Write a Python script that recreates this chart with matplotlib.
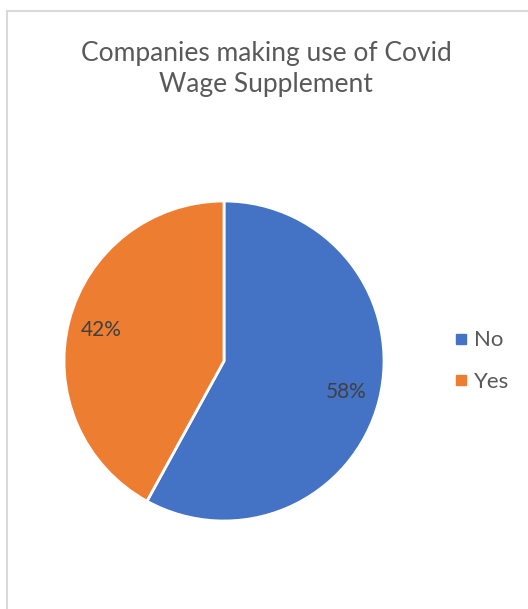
import matplotlib.pyplot as plt
from matplotlib.patches import Rectangle
from matplotlib.lines import Line2D

# share of companies that used the Covid wage supplement
categories = ['No', 'Yes']
shares = [58, 42]
colors = ['#4472C4', '#ED7D31']
title = 'Companies making use of Covid\nWage Supplement'

plt.rcParams['font.family'] = ['Lato', 'DejaVu Sans']
text_color = '#595959'

W, H = 528, 609
fig = plt.figure(figsize=(W / 100, H / 100), dpi=100)

# light grey chart-area frame, running off the right and bottom edges
fig.patches.append(Rectangle((6.5 / W, -0.05), 1.1, 1.05 - 10.5 / H,
                             transform=fig.transFigure, fill=False,
                             edgecolor='#d9d9d9', linewidth=1.5))

fig.text(266 / W, 1 - 69 / H, title, ha='center', va='center',
         fontsize=19, color=text_color, linespacing=1.3)

# pie axes: centre (224, 361) px, radius 160 px
cx, cy, r = 224, 361, 160
ax = fig.add_axes([(cx - r) / W, 1 - (cy + r) / H, 2 * r / W, 2 * r / H])
wedges, _, autotexts = ax.pie(
    shares, colors=colors, startangle=90, counterclock=False,
    autopct='%1.0f%%', pctdistance=0.79, radius=1,
    wedgeprops=dict(edgecolor='white', linewidth=2),
    textprops=dict(color='#404040', fontsize=15))
ax.set_xlim(-1, 1)
ax.set_ylim(-1, 1)
ax.set_aspect('auto')
ax.axis('off')

handles = [Line2D([], [], marker='s', linestyle='none', markersize=6.5,
                  markerfacecolor=c, markeredgecolor=c) for c in colors]
fig.legend(handles, categories, loc='center left',
           bbox_to_anchor=(450 / W, 1 - 361 / H), frameon=False,
           borderpad=0, borderaxespad=0,
           fontsize=16, labelcolor=text_color, handletextpad=0.1,
           labelspacing=0.95, handlelength=1.0)

fig.savefig('out.png', dpi=100)
